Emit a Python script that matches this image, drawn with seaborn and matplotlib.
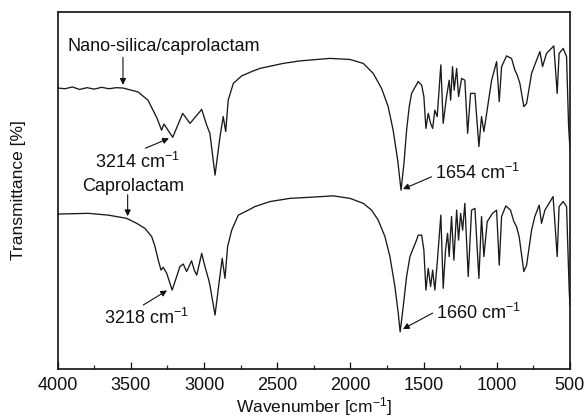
import matplotlib
matplotlib.use("Agg")
import matplotlib.pyplot as plt
import seaborn as sns
import pandas as pd

# ---- data (wavenumber in cm^-1, transmittance in arbitrary %) ----
top_wn = [4000, 3950, 3900, 3850, 3800, 3750, 3700, 3650, 3600, 3554,
          3451, 3383, 3349, 3322, 3290, 3274, 3214, 3146, 3096, 3016,
          2982, 2960, 2925, 2891, 2869, 2852, 2835, 2800, 2743, 2675,
          2618, 2459, 2345, 2140, 2003, 1912, 1844, 1787, 1742, 1708,
          1677, 1654, 1634, 1616, 1598, 1582, 1537, 1513, 1498, 1484,
          1468, 1452, 1438, 1423, 1407, 1382, 1366, 1343, 1325, 1315,
          1302, 1291, 1274, 1261, 1240, 1218, 1199, 1179, 1149, 1122,
          1104, 1088, 1069, 1035, 1001, 983, 967, 933, 899, 876,
          860, 842, 815, 796, 762, 728, 705, 687, 660, 610,
          587, 574, 546, 523, 509, 500]
top_T = [78.7, 78.5, 79.0, 78.3, 78.8, 78.4, 78.9, 78.5, 78.8, 78.7,
         77.6, 75.3, 72.5, 70.3, 66.9, 68.6, 64.9, 71.6, 68.8, 72.7,
         68.3, 66.0, 54.3, 65.1, 70.7, 66.5, 75.3, 80.0, 82.1, 83.3,
         84.2, 85.6, 86.3, 87.0, 86.7, 85.6, 82.8, 78.6, 73.5, 66.9,
         58.5, 50.1, 57.6, 66.9, 73.5, 77.2, 80.5, 79.5, 76.3, 67.4,
         71.6, 68.8, 67.4, 72.5, 70.7, 85.2, 68.8, 76.3, 80.9, 75.3,
         84.7, 78.1, 84.2, 76.3, 81.4, 80.9, 66.0, 77.2, 77.2, 62.3,
         70.7, 66.5, 71.6, 80.9, 86.1, 74.9, 84.7, 87.7, 87.0, 83.7,
         82.3, 80.0, 73.5, 74.4, 82.8, 86.5, 88.9, 84.7, 88.4, 90.5,
         77.2, 88.4, 89.8, 87.5, 67.9, 62.0]

bot_wn = [4000, 3791, 3654, 3529, 3460, 3404, 3358, 3335, 3313, 3294,
          3279, 3255, 3218, 3187, 3165, 3142, 3119, 3085, 3067, 3050,
          3016, 2994, 2971, 2960, 2925, 2898, 2876, 2857, 2839, 2811,
          2766, 2698, 2652, 2550, 2413, 2277, 2117, 2003, 1912, 1855,
          1810, 1764, 1730, 1696, 1673, 1660, 1639, 1616, 1593, 1571,
          1548, 1537, 1513, 1498, 1484, 1468, 1452, 1438, 1423, 1407,
          1382, 1366, 1350, 1336, 1325, 1309, 1293, 1274, 1261, 1247,
          1233, 1218, 1195, 1172, 1149, 1122, 1104, 1088, 1065, 1029,
          1001, 983, 967, 938, 906, 883, 865, 847, 815, 796,
          762, 740, 710, 694, 671, 615, 587, 574, 546, 523,
          505, 500]
bot_T = [43.4, 43.6, 43.1, 42.2, 40.8, 39.4, 37.1, 34.3, 30.5, 27.7,
         28.5, 26.8, 22.1, 25.9, 28.7, 29.4, 27.3, 30.3, 27.7, 26.3,
         32.4, 28.7, 25.4, 23.5, 15.1, 24.0, 31.0, 25.4, 34.3, 38.9,
         43.1, 44.5, 45.5, 46.9, 47.8, 48.1, 48.5, 47.8, 46.4, 44.5,
         41.7, 37.1, 31.5, 23.1, 15.6, 10.4, 17.5, 25.9, 31.5, 33.8,
         36.1, 37.5, 37.5, 33.3, 22.1, 28.2, 23.1, 27.7, 22.1, 29.6,
         43.1, 22.6, 33.3, 38.0, 31.5, 42.7, 30.5, 44.5, 36.1, 43.6,
         38.9, 46.4, 25.9, 44.5, 45.0, 25.4, 42.7, 31.5, 41.3, 43.6,
         44.5, 29.1, 42.7, 45.7, 44.5, 41.3, 39.9, 37.1, 27.3, 29.1,
         38.9, 42.7, 45.9, 40.8, 44.5, 48.3, 31.5, 45.5, 46.9, 45.5,
         22.1, 18.0]

series_names = ["Nano-silica/caprolactam", "Caprolactam"]
x_ticks = [4000, 3500, 3000, 2500, 2000, 1500, 1000, 500]
peak_labels = ["3214", "1654", "3218", "1660"]

# ---- styling ----
sns.set_style("white")
plt.rcParams["font.family"] = ["Liberation Sans", "DejaVu Sans"]
plt.rcParams["mathtext.fontset"] = "custom"
plt.rcParams["mathtext.rm"] = "Liberation Sans"
plt.rcParams["mathtext.it"] = "Liberation Sans:italic"
plt.rcParams["mathtext.bf"] = "Liberation Sans:bold"

df = pd.concat([
    pd.DataFrame({"wn": top_wn, "T": top_T, "sample": series_names[0]}),
    pd.DataFrame({"wn": bot_wn, "T": bot_T, "sample": series_names[1]}),
])

fig = plt.figure(figsize=(5.84, 4.19), dpi=100)
ax = fig.add_axes([0.0988, 0.1193, 0.8771, 0.8521])

sns.lineplot(data=df, x="wn", y="T", units="sample", estimator=None,
             color="#1a1a1a", linewidth=0.95, legend=False, ax=ax)

ax.set_xlim(4000, 500)
ax.set_ylim(0, 100)
ax.set_xticks(x_ticks)
ax.set_xticks([3750, 3250, 2750, 2250, 1750, 1250, 750], minor=True)
ax.set_yticks([])
ax.tick_params(axis="x", which="major", direction="in", length=5, width=0.9,
               labelsize=13, pad=6, colors="#111111", bottom=True, top=False)
ax.tick_params(axis="x", which="minor", direction="in", length=3.2, width=0.9,
               bottom=True, top=False)
for s in ax.spines.values():
    s.set_linewidth(1.2)
    s.set_color("#111111")

ax.set_xlabel(r"Wavenumber [cm$^{-1}$]", fontsize=12.5, color="#111111")
ax.set_ylabel("Transmittance [%]", fontsize=12.5, color="#111111")
ax.xaxis.set_label_coords(0.5, -0.072)
ax.xaxis.label.set_va("top")
ax.yaxis.set_label_coords(-0.062, 0.5)

arrow = dict(arrowstyle="-|>", color="#111111", lw=0.8, mutation_scale=9,
             shrinkA=0, shrinkB=0)
fs = 13

# sample labels
ax.text(3930, 90.2, series_names[0], fontsize=fs, ha="left", va="center", color="#111111")
ax.annotate("", xy=(3554, 79.6), xytext=(3554, 87.3), arrowprops=arrow)
ax.text(3836, 51.1, series_names[1], fontsize=fs, ha="left", va="center", color="#111111")
ax.annotate("", xy=(3522, 42.8), xytext=(3522, 48.8), arrowprops=arrow)

# peak labels
ax.annotate(peak_labels[0] + r" cm$^{-1}$", xy=(3240, 64.6), xytext=(3745, 58.1),
            fontsize=fs, ha="left", va="center", color="#111111",
            arrowprops=dict(arrow, relpos=(0.5, 1.0)))
ax.annotate(peak_labels[1] + r" cm$^{-1}$", xy=(1641, 50.4), xytext=(1423, 54.8),
            fontsize=fs, ha="left", va="center", color="#111111",
            arrowprops=dict(arrow, relpos=(0.0, 0.4)))
ax.annotate(peak_labels[2] + r" cm$^{-1}$", xy=(3253, 22.0), xytext=(3684, 14.2),
            fontsize=fs, ha="left", va="center", color="#111111",
            arrowprops=dict(arrow, relpos=(0.4, 1.0)))
ax.annotate(peak_labels[3] + r" cm$^{-1}$", xy=(1641, 11.2), xytext=(1416, 15.6),
            fontsize=fs, ha="left", va="center", color="#111111",
            arrowprops=dict(arrow, relpos=(0.0, 0.6)))

fig.savefig("out.png", dpi=100, facecolor="white")
